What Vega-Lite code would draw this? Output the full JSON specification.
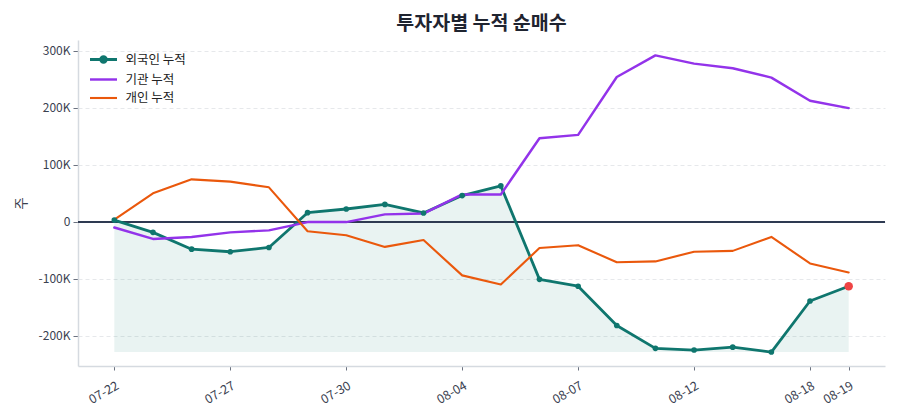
{
  "$schema": "https://vega.github.io/schema/vega-lite/v6.json",
  "autosize": "none",
  "width": 807,
  "height": 326,
  "padding": {"left": 78, "top": 40, "right": 15, "bottom": 54},
  "background": "white",
  "title": {
    "text": "투자자별 누적 순매수",
    "font": "Noto Sans CJK KR",
    "fontSize": 19.5,
    "fontWeight": "bold",
    "color": "#1f2430",
    "anchor": "middle",
    "offset": 6
  },
  "data": {
    "values": [
      {"date": "07-22", "investor": "외국인 누적", "value": 3000},
      {"date": "07-23", "investor": "외국인 누적", "value": -18500},
      {"date": "07-24", "investor": "외국인 누적", "value": -48000},
      {"date": "07-27", "investor": "외국인 누적", "value": -52500},
      {"date": "07-28", "investor": "외국인 누적", "value": -45000},
      {"date": "07-29", "investor": "외국인 누적", "value": 16000},
      {"date": "07-30", "investor": "외국인 누적", "value": 22500},
      {"date": "07-31", "investor": "외국인 누적", "value": 30500},
      {"date": "08-03", "investor": "외국인 누적", "value": 15500},
      {"date": "08-04", "investor": "외국인 누적", "value": 46000},
      {"date": "08-05", "investor": "외국인 누적", "value": 63000},
      {"date": "08-06", "investor": "외국인 누적", "value": -101000},
      {"date": "08-07", "investor": "외국인 누적", "value": -113000},
      {"date": "08-10", "investor": "외국인 누적", "value": -182000},
      {"date": "08-11", "investor": "외국인 누적", "value": -222000},
      {"date": "08-12", "investor": "외국인 누적", "value": -225000},
      {"date": "08-13", "investor": "외국인 누적", "value": -220000},
      {"date": "08-14", "investor": "외국인 누적", "value": -228500},
      {"date": "08-18", "investor": "외국인 누적", "value": -139000},
      {"date": "08-19", "investor": "외국인 누적", "value": -113000},
      {"date": "07-22", "investor": "기관 누적", "value": -10000},
      {"date": "07-23", "investor": "기관 누적", "value": -30000},
      {"date": "07-24", "investor": "기관 누적", "value": -26500},
      {"date": "07-27", "investor": "기관 누적", "value": -18500},
      {"date": "07-28", "investor": "기관 누적", "value": -15000},
      {"date": "07-29", "investor": "기관 누적", "value": -500},
      {"date": "07-30", "investor": "기관 누적", "value": -500},
      {"date": "07-31", "investor": "기관 누적", "value": 13000},
      {"date": "08-03", "investor": "기관 누적", "value": 14500},
      {"date": "08-04", "investor": "기관 누적", "value": 48000},
      {"date": "08-05", "investor": "기관 누적", "value": 48000},
      {"date": "08-06", "investor": "기관 누적", "value": 146500},
      {"date": "08-07", "investor": "기관 누적", "value": 152500},
      {"date": "08-10", "investor": "기관 누적", "value": 254000},
      {"date": "08-11", "investor": "기관 누적", "value": 292000},
      {"date": "08-12", "investor": "기관 누적", "value": 277500},
      {"date": "08-13", "investor": "기관 누적", "value": 269500},
      {"date": "08-14", "investor": "기관 누적", "value": 253000},
      {"date": "08-18", "investor": "기관 누적", "value": 212500},
      {"date": "08-19", "investor": "기관 누적", "value": 199500},
      {"date": "07-22", "investor": "개인 누적", "value": 4000},
      {"date": "07-23", "investor": "개인 누적", "value": 50000},
      {"date": "07-24", "investor": "개인 누적", "value": 74500},
      {"date": "07-27", "investor": "개인 누적", "value": 70500},
      {"date": "07-28", "investor": "개인 누적", "value": 60500},
      {"date": "07-29", "investor": "개인 누적", "value": -16500},
      {"date": "07-30", "investor": "개인 누적", "value": -23500},
      {"date": "07-31", "investor": "개인 누적", "value": -44000},
      {"date": "08-03", "investor": "개인 누적", "value": -32000},
      {"date": "08-04", "investor": "개인 누적", "value": -94000},
      {"date": "08-05", "investor": "개인 누적", "value": -110000},
      {"date": "08-06", "investor": "개인 누적", "value": -46000},
      {"date": "08-07", "investor": "개인 누적", "value": -41000},
      {"date": "08-10", "investor": "개인 누적", "value": -71000},
      {"date": "08-11", "investor": "개인 누적", "value": -69500},
      {"date": "08-12", "investor": "개인 누적", "value": -52500},
      {"date": "08-13", "investor": "개인 누적", "value": -51000},
      {"date": "08-14", "investor": "개인 누적", "value": -26500},
      {"date": "08-18", "investor": "개인 누적", "value": -73000},
      {"date": "08-19", "investor": "개인 누적", "value": -89000}
    ]
  },
  "layer": [
    {
      "encoding": {
        "x": {
          "field": "date",
          "type": "ordinal",
          "scale": {
            "type": "point",
            "padding": 0.94,
            "domain": ["07-22", "07-23", "07-24", "07-27", "07-28", "07-29", "07-30", "07-31", "08-03", "08-04", "08-05", "08-06", "08-07", "08-10", "08-11", "08-12", "08-13", "08-14", "08-18", "08-19"]
          },
          "axis": {
            "title": null,
            "values": ["07-22", "07-27", "07-30", "08-04", "08-07", "08-12", "08-18", "08-19"],
            "labelAngle": -30,
            "labelFontSize": 12.5,
            "labelPadding": 9,
            "tickSize": 4,
            "grid": false
          }
        },
        "y": {
          "field": "value",
          "type": "quantitative",
          "scale": {"domain": [-253000, 319000], "nice": false, "zero": false},
          "axis": {
            "title": "주",
            "titlePadding": 10,
            "values": [-200000, -100000, 0, 100000, 200000, 300000],
            "labelExpr": "datum.value === 0 ? '0' : (datum.value / 1000) + 'K'",
            "grid": true
          }
        }
      },
      "layer": [
        {
          "transform": [{"filter": "datum.investor === '외국인 누적'"}],
          "mark": {"type": "area", "color": "#0f766e", "opacity": 0.09},
          "encoding": {"y2": {"datum": -228500}}
        },
        {
          "mark": {"type": "rule", "color": "#2f3b52", "strokeWidth": 1.2},
          "encoding": {"x": null, "y": {"datum": 0}}
        },
        {
          "mark": {"type": "line", "strokeJoin": "round", "strokeCap": "round"},
          "encoding": {
            "color": {
              "field": "investor",
              "type": "nominal",
              "scale": {
                "domain": ["외국인 누적", "기관 누적", "개인 누적"],
                "range": ["#0f766e", "#9333ea", "#ea580c"]
              },
              "legend": {
                "title": null,
                "orient": "none",
                "legendX": 17,
                "legendY": 11,
                "symbolType": "M-2,0L2,0",
                "symbolSize": 182,
                "symbolStrokeWidth": 2.7,
                "labelOffset": 13.5,
                "rowPadding": 3.5,
                "padding": 0,
                "encoding": {
                  "symbols": {
                    "shape": {
                      "condition": {"test": "datum.value === '외국인 누적'", "value": "M-2,0L2,0M-0.42,0A0.42,0.42 0 1,0 0.42,0A0.42,0.42 0 1,0 -0.42,0Z"},
                      "value": "M-2,0L2,0"
                    },
                    "fill": {
                      "condition": {"test": "datum.value === '외국인 누적'", "value": "#0f766e"},
                      "value": "transparent"
                    }
                  }
                }
              }
            },
            "strokeWidth": {
              "field": "investor",
              "type": "nominal",
              "scale": {"domain": ["외국인 누적", "기관 누적", "개인 누적"], "range": [2.8, 2.1, 2.1]},
              "legend": null
            }
          }
        },
        {
          "transform": [{"filter": "datum.investor === '외국인 누적'"}],
          "mark": {"type": "circle", "color": "#0f766e", "size": 32, "opacity": 1}
        },
        {
          "transform": [{"filter": "datum.investor === '외국인 누적' && datum.date === '08-19'"}],
          "mark": {"type": "circle", "color": "#ef4444", "size": 72, "opacity": 1}
        }
      ]
    }
  ],
  "config": {
    "view": {"stroke": null},
    "font": "Noto Sans CJK KR",
    "axis": {
      "domainColor": "#d5dae0",
      "domainWidth": 1.5,
      "tickColor": "#6b7280",
      "tickSize": 5,
      "labelFont": "Noto Sans CJK KR",
      "labelFontSize": 12,
      "labelColor": "#3a4150",
      "labelPadding": 3,
      "titleFont": "Noto Sans CJK KR",
      "titleFontSize": 13.5,
      "titleFontWeight": "normal",
      "titleColor": "#3a4150",
      "gridColor": "#e6e8eb",
      "gridDash": [4, 3],
      "gridWidth": 1
    },
    "legend": {
      "labelFont": "Noto Sans CJK KR",
      "labelFontSize": 12.5,
      "labelColor": "#222222"
    }
  }
}
